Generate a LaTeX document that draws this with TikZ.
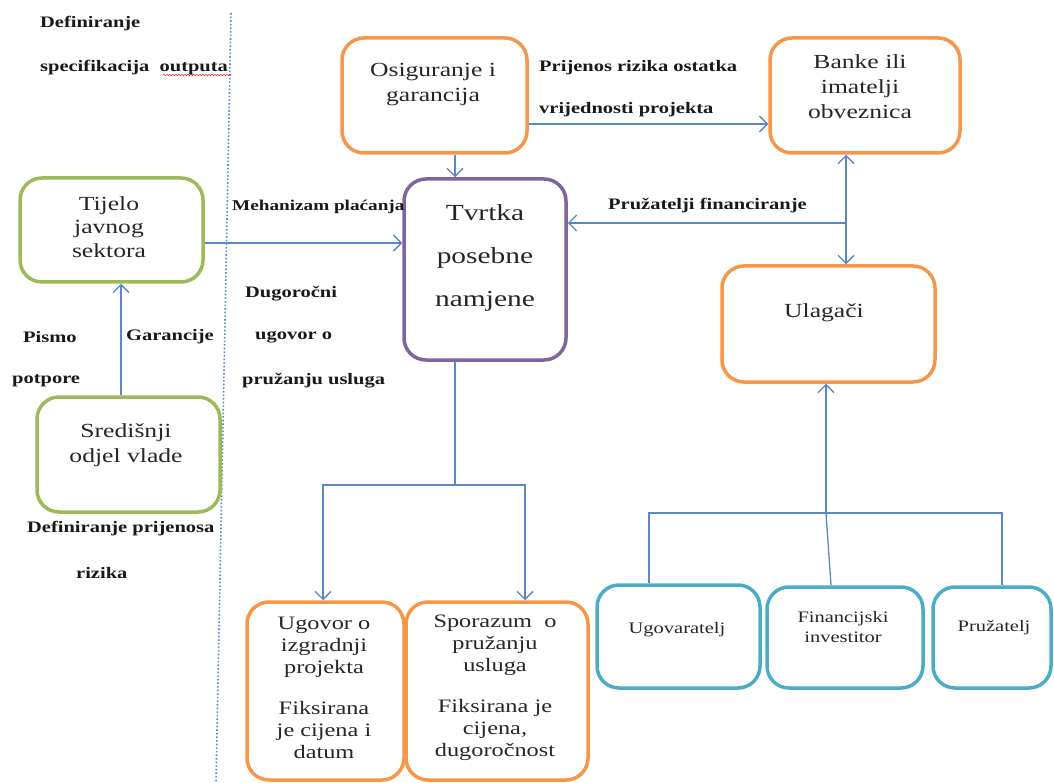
\documentclass[tikz,border=0pt]{standalone}
\usepackage{fontspec}
\setmainfont{Liberation Serif}[FakeStretch=1.28]
\usetikzlibrary{arrows.meta,decorations.pathmorphing}
\definecolor{ora}{HTML}{F79646}
\definecolor{grn}{HTML}{9BBB59}
\definecolor{pur}{HTML}{8064A2}
\definecolor{cya}{HTML}{4BACC6}
\definecolor{lnk}{HTML}{5A87C5}
\begin{document}
\begin{tikzpicture}[x=1pt,y=-1pt]
    \tikzstyle{box}=[draw, rounded corners=22pt, line width=3.5pt, inner sep=0pt]
    \tikzstyle{txt}=[align=center, inner sep=0pt, text=black!85]
    \tikzstyle{lbl}=[anchor=west, inner sep=0pt, font=\fontsize{16}{19}\selectfont\bfseries, text=black!90]
    \tikzstyle{line}=[draw=lnk, line width=1.3pt]
    \tikzstyle{arr}=[line, -{Straight Barb[length=8pt,width=16pt]}]
    \tikzstyle{arr2}=[line, {Straight Barb[length=8pt,width=16pt]}-{Straight Barb[length=8pt,width=16pt]}]

    \useasboundingbox (0,0) rectangle (1054,783);

    \draw[lnk, dotted, line width=1.6pt] (231,13) -- (216,783);

    \node[box, draw=ora, minimum width=185pt, minimum height=115pt] (osig) at (434.5,95.5) {};
    \node[box, draw=ora, minimum width=190pt, minimum height=115pt] (banke) at (865,95.5) {};
    \node[box, draw=pur, minimum width=162pt, minimum height=181pt] (tvrtka) at (485,269.5) {};
    \node[box, draw=grn, minimum width=183pt, minimum height=104pt] (tijelo) at (111.5,230) {};
    \node[box, draw=grn, minimum width=183pt, minimum height=115pt] (sred) at (128.5,454.5) {};
    \node[box, draw=ora, minimum width=213pt, minimum height=116pt] (ulag) at (828.5,324) {};
    \node[box, draw=ora, minimum width=157pt, minimum height=178pt] (ugov) at (325.5,691) {};
    \node[box, draw=ora, minimum width=182pt, minimum height=178pt] (spor) at (497,691) {};
    \node[box, draw=cya, minimum width=163pt, minimum height=103pt] (ugovar) at (678.5,636.5) {};
    \node[box, draw=cya, minimum width=156pt, minimum height=101pt] (finan) at (845,637.5) {};
    \node[box, draw=cya, minimum width=118pt, minimum height=101pt] (pruz) at (992,637.5) {};

    \node[txt, font=\fontsize{20}{25}\selectfont] (osigt) at (433,85) {Osiguranje i\\garancija};
    \node[txt, font=\fontsize{20}{25}\selectfont] (banket) at (860,87) {Banke ili\\imatelji\\obveznica};
    \node[txt, font=\fontsize{23}{43}\selectfont] (tvrtkat) at (485,258) {Tvrtka\\posebne\\namjene};
    \node[txt, font=\fontsize{20}{23.5}\selectfont] (tijelot) at (109,227) {Tijelo\\javnog\\sektora};
    \node[txt, font=\fontsize{20}{25}\selectfont] (sredt) at (126,445) {Središnji\\odjel vlade};
    \node[txt, font=\fontsize{20}{25}\selectfont] (ulagt) at (824,313) {Ulagači};
    \node[txt, font=\fontsize{19}{22}\selectfont] (ugovt) at (324,688) {Ugovor o\\izgradnji\\projekta\\[19pt]Fiksirana\\je cijena i\\datum};
    \node[txt, font=\fontsize{19}{22}\selectfont] (sport) at (495,688) {Sporazum\ \ o\\pružanju\\usluga\\[19pt]Fiksirana je\\cijena,\\dugoročnost};
    \node[txt, font=\fontsize{16}{20}\selectfont] (ugovart) at (677,630) {Ugovaratelj};
    \node[txt, font=\fontsize{16}{20}\selectfont] (finant) at (843,627) {Financijski\\investitor};
    \node[txt, font=\fontsize{16}{20}\selectfont] (pruzt) at (994,628) {Pružatelj};

    \node[lbl] (def1) at (40,24) {Definiranje};
    \node[lbl] (def2) at (40,68) {specifikacija\ \ outputa};
    \node[lbl, font=\fontsize{15}{18}\selectfont\bfseries] (meh) at (232,207) {Mehanizam plaćanja};
    \node[lbl] (prij1) at (539,68) {Prijenos rizika ostatka};
    \node[lbl] (prij2) at (539,110) {vrijednosti projekta};
    \node[lbl] (pruzf) at (608,206) {Pružatelji financiranje};
    \node[lbl] (pismo) at (23,337) {Pismo};
    \node[lbl] (potp) at (12,381) {potpore};
    \node[lbl] (gar) at (126,337) {Garancije};
    \node[lbl] (dug1) at (245,294) {Dugoročni};
    \node[lbl] (dug2) at (255,337) {ugovor o};
    \node[lbl] (dug3) at (242,381) {pružanju usluga};
    \node[lbl] (defp1) at (27,529) {Definiranje prijenosa};
    \node[lbl] (defp2) at (76,573) {rizika};

    \draw[red, decorate, decoration={snake, amplitude=0.8pt, segment length=3pt}] (163,75) -- (232,75);

    \coordinate (fin) at ([xshift=-19pt]banke.south |- 0,223);
    \coordinate (inv) at (826,513);
    \coordinate (split) at ([xshift=-30pt]tvrtka.south |- 0,485);

    \draw[arr] ([yshift=-28.5pt]osig.east) -- ([yshift=-28.5pt]banke.west);
    \draw[arr] ([xshift=20.5pt]osig.south) -- ([xshift=20.5pt]osig.south |- tvrtka.north);
    \draw[arr] ([yshift=-13pt]tijelo.east) -- ([yshift=-13pt]tijelo.east -| tvrtka.west);
    \draw[arr] ([xshift=-7.5pt]sred.north) -- ([xshift=-7.5pt]sred.north |- tijelo.south);
    \draw[arr2] ([xshift=-19pt]banke.south) -- ([xshift=-19pt]banke.south |- ulag.north);
    \draw[arr] (fin) -- (fin -| tvrtka.east);
    \draw[arr] (inv) -- (inv |- ulag.south);
    \draw[line] ([xshift=-29.5pt]ugovar.north) |- (inv) -| ([xshift=10pt]pruz.north);
    \draw[line] ([xshift=-14pt]finan.north) -- (inv);
    \draw[line] ([xshift=-30pt]tvrtka.south) -- (split);
    \draw[arr] (split) -| ([xshift=-2.5pt]ugov.north);
    \draw[arr] (split) -| ([xshift=28pt]spor.north);
\end{tikzpicture}
\end{document}
